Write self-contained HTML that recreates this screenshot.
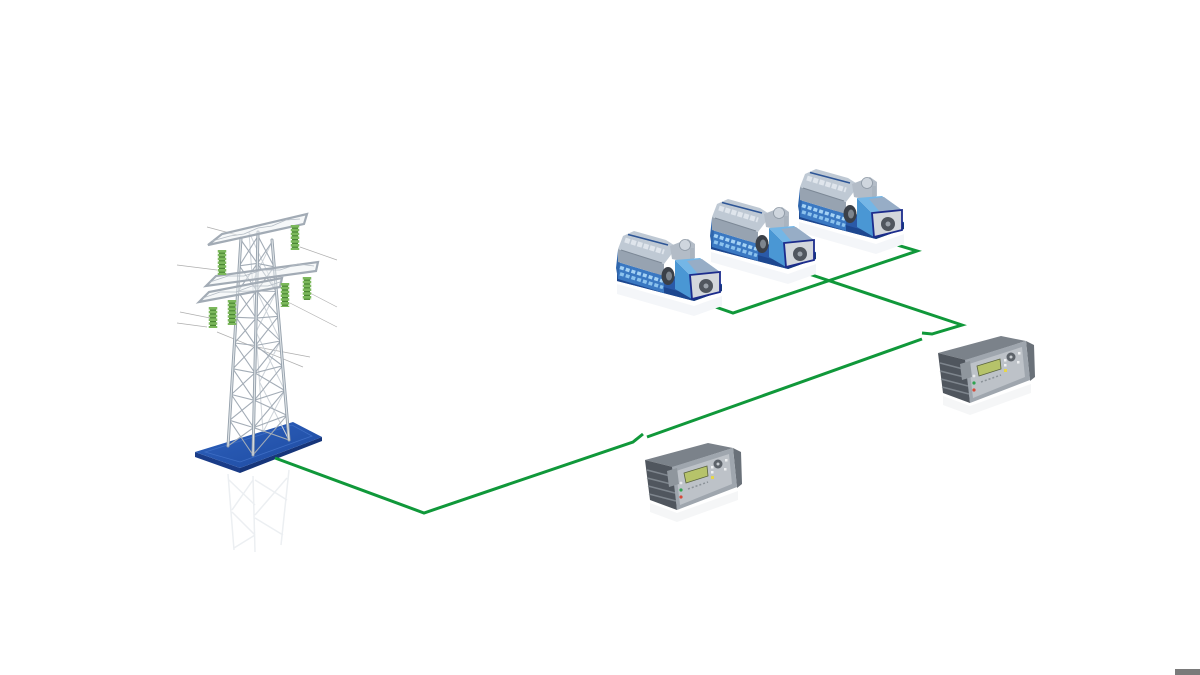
<!DOCTYPE html>
<html>
<head>
<meta charset="utf-8">
<style>
html,body{margin:0;padding:0;background:#fff;}
svg{display:block;}
</style>
</head>
<body>
<svg width="1200" height="675" viewBox="0 0 1200 675" xmlns="http://www.w3.org/2000/svg">
<defs>
  <linearGradient id="plate" x1="0" y1="0" x2="1" y2="1">
    <stop offset="0" stop-color="#2f62be"/>
    <stop offset="1" stop-color="#1d4aa0"/>
  </linearGradient>

  <g id="gs">
    <polygon points="617,284 694,306 722,296 722,306 694,316 617,294" fill="#f4f6f9"/>
    <polygon points="617,274 630,269 722,284 722,291 694,301 617,281" fill="#2a5aa8"/>
    <polygon points="617,274 692,295 694,301 617,281" fill="#1d478f"/>
    <polygon points="692,295 722,285 722,291 694,301" fill="#163a7a"/>
    <polygon points="618,262 664,276 664,293 618,279" fill="#3a78c2"/>
    <polygon points="618,250 620,262 618,279 616,268" fill="#2f66ad"/>
    <line x1="620" y1="267.5" x2="663" y2="281.2" stroke="#a5d2f4" stroke-width="3.5" stroke-dasharray="4 2"/>
    <line x1="620" y1="273.8" x2="663" y2="287.5" stroke="#8cc3ee" stroke-width="3.5" stroke-dasharray="4 2"/>
    <polygon points="618,249 664,264 664,276 618,262" fill="#97a3b1"/>
    <polygon points="618,249 623,236 634,231 666,240 677,247 664,264" fill="#bfc9d4"/>
    <line x1="625" y1="240" x2="664" y2="252" stroke="#dfe5ec" stroke-width="5" stroke-dasharray="5 1.5"/>
    <line x1="628" y1="234.5" x2="668" y2="245" stroke="#2d5596" stroke-width="1.6"/>
    <line x1="621" y1="250" x2="662" y2="263" stroke="#7c8896" stroke-width="1"/>
    <path d="M670,246 L688,239 L695,244 L695,258 L686,262 L672,259 Z" fill="#b3bcc7"/>
    <circle cx="685" cy="245" r="5.5" fill="#cfd6de" stroke="#8d98a4" stroke-width=".8"/>
    <rect x="690" y="248" width="4" height="12" fill="#aab4bf"/>
    <ellipse cx="668" cy="276" rx="6.5" ry="9" fill="#3b4048"/>
    <ellipse cx="669" cy="276" rx="3" ry="4.5" fill="#7d858e"/>
    <polygon points="675,260 690,275 692,299 675,289" fill="#4a97d4"/>
    <polygon points="675,260 700,258 720,272 690,275" fill="#74b6e6"/>
    <polygon points="687,261 702,259 720,272 698,274" fill="#97adc6"/>
    <polygon points="690,275 720,272 720,292 692,299" fill="#d3d7dc" stroke="#1c2c8c" stroke-width="1.8"/>
    <circle cx="706" cy="286" r="7" fill="#50565e"/>
    <circle cx="706" cy="286" r="2.5" fill="#9aa1a9"/>
  </g>

  <g id="ct">
    <polygon points="650,503 677,513 738,491 738,500 677,522 650,512" fill="#f5f6f7"/>
    <polygon points="645,460 708,443 733,448 673,467" fill="#7b828a"/>
    <polygon points="645,460 673,467 677,510 650,500" fill="#50565e"/>
    <path d="M647,470 L674,477 M647,478 L675,485 M648,486 L675,493 M649,494 L676,501" stroke="#7e858d" stroke-width="1.5" fill="none"/>
    <polygon points="733,448 741,452 742,484 737,488" fill="#6a7179"/>
    <polygon points="672,467 733,448 737,487 677,510" fill="#9fa6ae"/>
    <polygon points="676,471 729,454 732,484 680,505" fill="#bdc2c8"/>
    <polygon points="667,471 677,468 679,484 669,487" fill="#8f969d"/>
    <polygon points="684,473 707,466 708,476 686,483" fill="#b6c36a" stroke="#59633d" stroke-width=".8"/>
    <circle cx="718" cy="464" r="4.5" fill="#5d636a"/>
    <circle cx="718" cy="464" r="1.5" fill="#c9cdd2"/>
    <rect x="711" y="466" width="2.5" height="2.5" fill="#eef0f2"/>
    <rect x="711" y="471" width="2.5" height="2.5" fill="#eef0f2"/>
    <rect x="725" y="459" width="2.5" height="2.5" fill="#eef0f2"/>
    <rect x="724" y="468" width="2.5" height="2.5" fill="#eef0f2"/>
    <rect x="711" y="476" width="3" height="3" fill="#e6d64a"/>
    <circle cx="681" cy="490" r="1.6" fill="#2ea34f"/>
    <circle cx="681" cy="497" r="1.6" fill="#d44a3a"/>
    <circle cx="681" cy="483" r="1.4" fill="#e8eaec"/>
    <line x1="688" y1="489" x2="708" y2="482" stroke="#8b9298" stroke-width="1.5" stroke-dasharray="2 2"/>
  </g>
</defs>

<rect width="1200" height="675" fill="#ffffff"/>

<!-- tower reflection -->
<g stroke="#eceff2" stroke-width="1.5" fill="none">
  <path d="M228,474 L234,550 M253,476 L255,552 M289,470 L281,545 M229,480 L255,505 M253,480 L232,510 M255,480 L287,500 M287,478 L255,515 M232,512 L255,535 M255,518 L283,535 M255,535 L234,548"/>
</g>

<!-- wires -->
<g stroke="#9a9a9a" stroke-width=".7" fill="none" opacity=".8">
  <path d="M207,227 L237,235 M177,265 L217,270 M180,312 L210,318 M177,323 L207,327 M300,247 L337,260 M310,293 L337,307 M290,303 L337,327 M217,332 L303,367 M257,347 L310,357"/>
</g>

<!-- plate -->
<polygon points="195,452 240,468 240,473 195,457" fill="#1a3c88"/>
<polygon points="240,468 322,437 322,441 240,473" fill="#16357a"/>
<polygon points="195,452 293,422 322,437 240,468" fill="url(#plate)"/>
<polygon points="205,452 292,425 312,436 240,462" fill="none" stroke="#3d6dc4" stroke-width=".8"/>

<!-- back leg / back braces -->
<g stroke="#cdd3d9" stroke-width="1" fill="none">
  <path d="M249,232 L263,432"/>
  <path d="M272,242 L252.5,282 M249,232 L276.3,291.5 M276.3,291.5 L256,332 M252.5,282 L280.5,341 M280.5,341 L259.5,382 M256,332 L284.8,390.5 M284.8,390.5 L263,432 M259.5,382 L289,440"/>
</g>

<!-- lattice braces -->
<g stroke="#a3acb6" stroke-width="1.1" fill="none">
  <path d="M241,240 L257.4,263.4 M258,236 L239.4,265.8 M239.4,265.8 L256.8,290.8 M257.4,263.4 L237.8,291.5 M237.8,291.5 L256.1,318.1 M256.8,290.8 L236.1,317.3 M236.1,317.3 L255.5,345.5 M256.1,318.1 L234.5,343 M234.5,343 L254.9,372.9 M255.5,345.5 L232.9,368.8 M232.9,368.8 L254.3,400.3 M254.9,372.9 L231.3,394.5 M231.3,394.5 L253.6,427.6 M254.3,400.3 L229.6,420.3 M229.6,420.3 L253,455 M253.6,427.6 L228,446"/>
  <path d="M258,236 L274.1,266.8 M272,242 L257.4,263.4 M257.4,263.4 L276.3,291.5 M274.1,266.8 L256.8,290.8 M256.8,290.8 L278.4,316.3 M276.3,291.5 L256.1,318.1 M256.1,318.1 L280.5,341 M278.4,316.3 L255.5,345.5 M255.5,345.5 L282.6,365.8 M280.5,341 L254.9,372.9 M254.9,372.9 L284.8,390.5 M282.6,365.8 L254.3,400.3 M254.3,400.3 L286.9,415.3 M284.8,390.5 L253.6,427.6 M253.6,427.6 L289,440 M286.9,415.3 L253,455"/>
  <path d="M239.4,265.8 L257.4,263.4 L274.1,266.8 M237.8,291.5 L256.8,290.8 L276.3,291.5 M236.1,317.3 L256.1,318.1 L278.4,316.3 M234.5,343 L255.5,345.5 L280.5,341 M232.9,368.8 L254.9,372.9 L282.6,365.8 M231.3,394.5 L254.3,400.3 L284.8,390.5 M229.6,420.3 L253.6,427.6 L286.9,415.3"/>
</g>

<!-- legs -->
<g stroke-linecap="round" fill="none">
  <path d="M241,238 L228,446 M258,232 L253,455 M272,240 L289,440" stroke="#95a0ab" stroke-width="3"/>
  <path d="M241,238 L228,446 M258,232 L253,455 M272,240 L289,440" stroke="#dde2e6" stroke-width="1.2"/>
</g>

<!-- cross arms -->
<g stroke="#a2abb5" stroke-width="2.2" fill="#eef1f4" fill-opacity=".5">
  <polygon points="208,245 222,234 307,214 304,224"/>
  <polygon points="206,286 216,276 318,262 316,271"/>
  <polygon points="199,302 209,292 282,278 280,287"/>
</g>
<g stroke="#b3bbc4" stroke-width=".8" fill="none">
  <path d="M212,241 L230,236 L244,234 L258,228 L272,226 L286,220 L300,219"/>
  <path d="M210,282 L228,276 L244,276 L262,270 L280,270 L298,264 L314,266"/>
  <path d="M203,298 L220,292 L236,292 L252,286 L268,286 L280,282"/>
</g>

<!-- insulators -->
<g fill="none">
  <g stroke="#4a8732" stroke-width="6">
    <line x1="222" y1="250" x2="222" y2="275"/>
    <line x1="295" y1="225" x2="295" y2="250"/>
    <line x1="307" y1="277" x2="307" y2="300"/>
    <line x1="285" y1="283" x2="285" y2="307"/>
    <line x1="232" y1="300" x2="232" y2="325"/>
    <line x1="213" y1="307" x2="213" y2="328"/>
  </g>
  <g stroke="#7cb85c" stroke-width="8.5" stroke-dasharray="2.6 1.2">
    <line x1="222" y1="250" x2="222" y2="275"/>
    <line x1="295" y1="225" x2="295" y2="250"/>
    <line x1="307" y1="277" x2="307" y2="300"/>
    <line x1="285" y1="283" x2="285" y2="307"/>
    <line x1="232" y1="300" x2="232" y2="325"/>
    <line x1="213" y1="307" x2="213" y2="328"/>
  </g>
</g>

<!-- green connection lines -->
<g stroke="#10983a" stroke-width="3" fill="none" stroke-linejoin="miter" stroke-linecap="butt">
  <path d="M275,458 L424,513 L633,442 L643,434"/>
  <path d="M647,437 L922,339"/>
  <path d="M922,333 L932,334 L962,325 L800,271"/>
  <path d="M887,242 L917,251 L733,313 L707,304"/>
</g>

<!-- gensets -->
<use href="#gs" transform="translate(182,-62)"/>
<use href="#gs" transform="translate(94,-32)"/>
<use href="#gs"/>

<!-- controllers -->
<use href="#ct" transform="translate(293,-107)"/>
<use href="#ct"/>

<!-- corner bar -->
<rect x="1175" y="669" width="25" height="6" fill="#7a7a7a"/>
</svg>
</body>
</html>
